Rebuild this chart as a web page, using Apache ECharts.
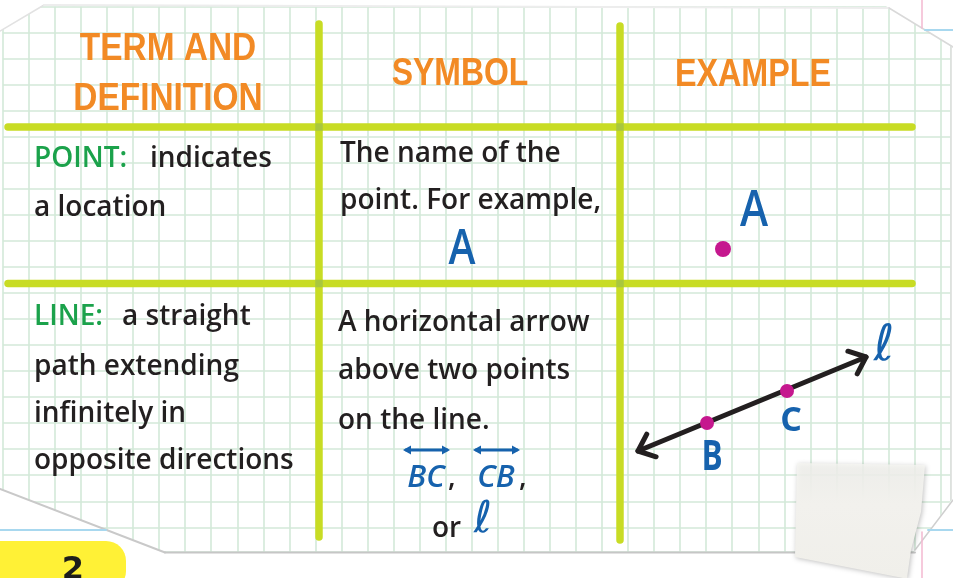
<!DOCTYPE html>
<html>
<head>
<meta charset="utf-8">
<script src="https://cdn.jsdelivr.net/npm/echarts@6/dist/echarts.min.js"></script>
<style>
html,body{margin:0;padding:0;background:#ffffff;}
#chart{width:953px;height:578px;}
</style>
</head>
<body>
<div id="chart"></div>
<script>
// ---------- data ----------
const headerTerm = ['TERM AND', 'DEFINITION'];
const headerSymbol = 'SYMBOL';
const headerExample = 'EXAMPLE';
const termLabels = ['POINT:', 'LINE:'];
const pointDefinition = ['indicates', 'a location'];
const lineDefinition = ['a straight', 'path extending', 'infinitely in', 'opposite directions'];
const pointSymbolText = ['The name of the', 'point. For example,'];
const lineSymbolText = ['A horizontal arrow', 'above two points', 'on the line.'];
const symbolNames = ['A', 'BC', 'CB', 'or', 'ℓ'];
const exampleLabels = ['A', 'B', 'C', 'ℓ'];
const pointA = [723, 249];
const pointsBC = [[707, 423], [787, 391]];
const lineEnds = [638, 451, 866, 357];
const overArrows = [[403, 450, 450, 450], [473, 450, 520, 450]];
const gridStep = 26;

// ---------- style constants ----------
const ORANGE = '#f28a25', GREEN = '#1ba24b', INK = '#231f20', BLUE = '#1662ad', MAGENTA = '#c5188e';
const RULE = '#c8dc24', RULE_X = '#a9c73e';
const BODY = '"Open Sans", "DejaVu Sans", sans-serif';
const HEAD = '"Liberation Sans", Arial, sans-serif';
const BODYFONT = '600 28px ' + BODY;

function txt(text, x, y, o) {
  o = o || {};
  return {
    type: 'text', x: x, y: y, z: o.z || 6, scaleX: o.sx || 1, scaleY: o.sy || 1,
    style: {
      text: text, x: 0, y: 0,
      fill: o.fill || INK,
      font: o.font || BODYFONT,
      textAlign: o.align || 'left',
      textVerticalAlign: o.valign || 'middle'
    }
  };
}
const BL = 9; // baseline -> middle offset for body text
const g = [];

// white areas outside the paper
const W = '#ffffff';
g.push({type: 'rect', z: 1, shape: {x: 0, y: 0, width: 953, height: 5}, style: {fill: W}});
g.push({type: 'polygon', z: 1, shape: {points: [[0, 0], [52, 0], [0, 31]]}, style: {fill: W}});
g.push({type: 'polygon', z: 1, shape: {points: [[876, 0], [953, 0], [953, 47]]}, style: {fill: W}});
g.push({type: 'rect', z: 1, shape: {x: 951.5, y: 0, width: 2, height: 578}, style: {fill: W}});
g.push({type: 'polygon', z: 1, shape: {points: [[0, 489], [166, 553], [0, 553]]}, style: {fill: W}});
g.push({type: 'rect', z: 1, shape: {x: 0, y: 553, width: 953, height: 25}, style: {fill: W}});
g.push({type: 'polygon', z: 1, shape: {points: [[913, 553], [953, 498], [953, 553]]}, style: {fill: W}});

// paper edges
function seg(x1, y1, x2, y2, stroke, w, z) {
  return {type: 'line', z: z || 2, shape: {x1: x1, y1: y1, x2: x2, y2: y2},
    style: {stroke: stroke, lineWidth: w, lineCap: 'round'}};
}
g.push(seg(0, 31, 44, 5, '#e2e2e2', 1.5));
g.push(seg(44, 5, 889, 8, '#ededed', 2));
g.push(seg(889, 8, 953, 47, '#d9d9d9', 1.5));
g.push(seg(951, 47, 951, 500, '#dedede', 1.5));
g.push(seg(0, 489, 165, 552.5, '#c9c9c9', 2));
g.push(seg(165, 552.5, 915, 552.5, '#c6c6c6', 2));
g.push(seg(915, 550, 953, 500, '#cfcfcf', 1.5));

// page behind
g.push(seg(922, 0, 922, 28, '#f3b8d0', 1.5));
g.push(seg(925, 30, 953, 30, '#a8d8ef', 2));
g.push(seg(0, 530, 106, 530, '#a8d8ef', 2));
g.push(seg(928, 530, 953, 530, '#a8d8ef', 2));
g.push(seg(922, 532, 922, 578, '#f3b8d0', 1.5));

// highlighter + page number
g.push({type: 'rect', z: 2, shape: {x: -20, y: 541, width: 146, height: 50, r: 20}, style: {fill: '#fff136'}});
g.push(txt('2', 73, 555, {font: '900 32px "DejaVu Sans", sans-serif', align: 'center', valign: 'top', fill: '#1d1d1b', z: 3}));

// table rules
g.push(seg(8, 127, 912, 127, RULE, 7.5, 3));
g.push(seg(8, 283.5, 912, 283.5, RULE, 7.5, 3));
g.push(seg(319, 24, 319, 537, RULE, 7.5, 3));
g.push(seg(620, 26, 620, 540, RULE, 7.5, 3));
[[319, 127], [620, 127], [319, 283.5], [620, 283.5]].forEach(function (p) {
  g.push({type: 'rect', z: 4, shape: {x: p[0] - 3.75, y: p[1] - 3.75, width: 7.5, height: 7.5}, style: {fill: RULE_X}});
});

// headers
const HF = '700 38px ' + HEAD;
g.push(txt(headerTerm[0], 168, 50, {font: HF, fill: ORANGE, align: 'center', sx: 0.88}));
g.push(txt(headerTerm[1], 168, 100, {font: HF, fill: ORANGE, align: 'center', sx: 0.88}));
g.push(txt(headerSymbol, 460, 75, {font: HF, fill: ORANGE, align: 'center', sx: 0.84}));
g.push(txt(headerExample, 753, 76, {font: HF, fill: ORANGE, align: 'center', sx: 0.85}));

// column 1
g.push(txt(termLabels[0], 34, 168 - BL, {fill: GREEN}));
g.push(txt(pointDefinition[0], 150, 168 - BL));
g.push(txt(pointDefinition[1], 34, 217 - BL));
g.push(txt(termLabels[1], 34, 326 - BL, {fill: GREEN}));
g.push(txt(lineDefinition[0], 122, 326 - BL));
g.push(txt(lineDefinition[1], 34, 376 - BL));
g.push(txt(lineDefinition[2], 34, 423 - BL));
g.push(txt(lineDefinition[3], 34, 470 - BL));

// column 2
g.push(txt(pointSymbolText[0], 340, 163 - BL));
g.push(txt(pointSymbolText[1], 340, 210 - BL));
g.push(txt(lineSymbolText[0], 338, 332 - BL));
g.push(txt(lineSymbolText[1], 338, 380 - BL));
g.push(txt(lineSymbolText[2], 338, 430 - BL));
g.push(txt(symbolNames[0], 462, 250, {font: '600 48px ' + BODY, fill: BLUE, align: 'center', sx: 0.85}));
g.push(txt(symbolNames[1], 426, 478, {font: 'italic 600 31px ' + BODY, fill: BLUE, align: 'center'}));
g.push(txt(',', 448, 487 - BL, {}));
g.push(txt(symbolNames[2], 496, 478, {font: 'italic 600 31px ' + BODY, fill: BLUE, align: 'center'}));
g.push(txt(',', 519, 487 - BL, {}));
g.push(txt(symbolNames[3], 432, 538 - BL, {}));
g.push(txt(symbolNames[4], 483, 521, {font: 'italic 400 44px "DejaVu Sans", sans-serif', fill: BLUE, align: 'center'}));

// column 3 labels
g.push(txt(exampleLabels[0], 754, 212, {font: '600 50px ' + BODY, fill: BLUE, align: 'center', sx: 0.85}));
g.push(txt(exampleLabels[1], 712, 458, {font: '700 42px ' + BODY, fill: BLUE, align: 'center', sx: 0.75}));
g.push(txt(exampleLabels[2], 791, 421, {font: '700 34px ' + BODY, fill: BLUE, align: 'center'}));
g.push(txt(exampleLabels[3], 884, 347, {font: 'italic 400 50px "DejaVu Sans", sans-serif', fill: BLUE, align: 'center'}));

// tape
g.push({type: 'polygon', z: 20,
  shape: {points: [[797, 463], [925, 465], [921, 512], [911, 550], [907, 578], [903, 578], [795, 557]]},
  style: {
    fill: {type: 'linear', x: 0, y: 0, x2: 0, y2: 1, colorStops: [
      {offset: 0, color: 'rgba(246,246,242,0.8)'}, {offset: 0.35, color: '#f2f1ed'}, {offset: 1, color: '#f0efea'}]},
    shadowBlur: 5, shadowColor: 'rgba(0,0,0,0.25)', shadowOffsetX: 1, shadowOffsetY: 1
  }});

// ---------- chart ----------
const chart = echarts.init(document.getElementById('chart'), null, {renderer: 'canvas'});
const hidden = {show: false};
function arrowHead(p, ang, L, a) {
  return [[p[0] - L * Math.cos(ang - a), p[1] - L * Math.sin(ang - a)], p,
          [p[0] - L * Math.cos(ang + a), p[1] - L * Math.sin(ang + a)]];
}
chart.setOption({
  animation: false,
  backgroundColor: '#ffffff',
  grid: [
    {left: 2.8, top: 6.7, width: 948, height: 545.3, show: false},
    {left: 0, top: 0, right: 0, bottom: 0, show: false}
  ],
  xAxis: [
    {gridIndex: 0, type: 'value', min: 0, max: 948 * gridStep / 26.05, interval: gridStep, z: 0,
      axisLine: hidden, axisTick: hidden, axisLabel: hidden,
      splitLine: {show: true, lineStyle: {color: '#d3e9d9', width: 1.6}}},
    {gridIndex: 1, type: 'value', min: 0, max: 953, show: false}
  ],
  yAxis: [
    {gridIndex: 0, type: 'value', inverse: true, min: 0, max: 545.3 * gridStep / 26.03, interval: gridStep, z: 0,
      axisLine: hidden, axisTick: hidden, axisLabel: hidden,
      splitLine: {show: true, lineStyle: {color: '#d3e9d9', width: 1.6}}},
    {gridIndex: 1, type: 'value', min: 0, max: 578, inverse: true, show: false}
  ],
  graphic: {elements: g},
  series: [
    {
      type: 'custom', name: 'line', xAxisIndex: 1, yAxisIndex: 1, z: 7,
      data: [lineEnds],
      renderItem: function (params, api) {
        const p0 = api.coord([api.value(0), api.value(1)]);
        const p1 = api.coord([api.value(2), api.value(3)]);
        const ang = Math.atan2(p1[1] - p0[1], p1[0] - p0[0]);
        const st = {stroke: INK, lineWidth: 5, lineCap: 'round', lineJoin: 'round', fill: null};
        return {type: 'group', children: [
          {type: 'line', shape: {x1: p0[0], y1: p0[1], x2: p1[0], y2: p1[1]}, style: st},
          {type: 'polyline', shape: {points: arrowHead(p1, ang, 19, 0.7)}, style: st},
          {type: 'polyline', shape: {points: arrowHead(p0, ang + Math.PI, 19, 0.7)}, style: st}
        ]};
      }
    },
    {
      type: 'custom', name: 'overArrows', xAxisIndex: 1, yAxisIndex: 1, z: 7,
      data: overArrows,
      renderItem: function (params, api) {
        const p0 = api.coord([api.value(0), api.value(1)]);
        const p1 = api.coord([api.value(2), api.value(3)]);
        return {type: 'group', children: [
          {type: 'line', shape: {x1: p0[0] + 3, y1: p0[1], x2: p1[0] - 3, y2: p1[1]},
            style: {stroke: BLUE, lineWidth: 2.8, lineCap: 'round'}},
          {type: 'polygon', shape: {points: [[p0[0], p0[1]], [p0[0] + 8, p0[1] - 4.5], [p0[0] + 8, p0[1] + 4.5]]},
            style: {fill: BLUE}},
          {type: 'polygon', shape: {points: [[p1[0], p1[1]], [p1[0] - 8, p1[1] - 4.5], [p1[0] - 8, p1[1] + 4.5]]},
            style: {fill: BLUE}}
        ]};
      }
    },
    {
      type: 'scatter', name: 'points', xAxisIndex: 1, yAxisIndex: 1, z: 8,
      data: [pointA].concat(pointsBC),
      symbol: 'circle',
      symbolSize: function (v, p) { return p.dataIndex === 0 ? 16 : 14; },
      itemStyle: {color: MAGENTA, opacity: 1},
      silent: true
    }
  ]
});
</script>
</body>
</html>
